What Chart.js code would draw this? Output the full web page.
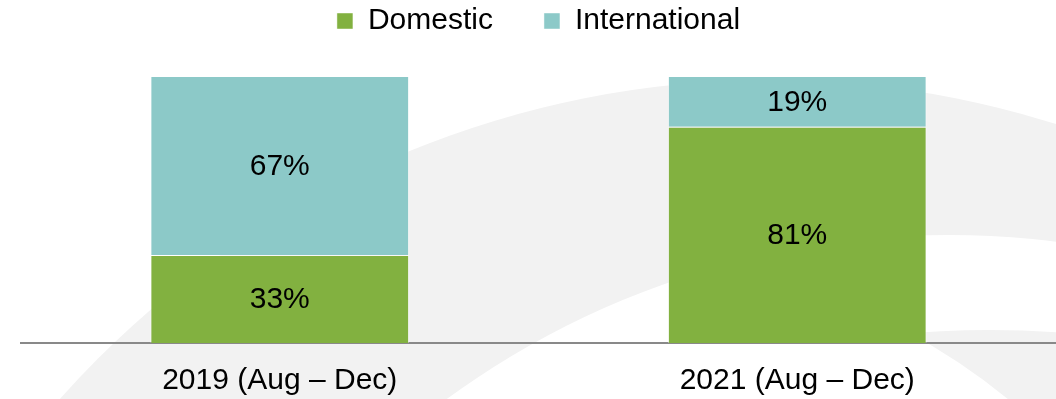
<!DOCTYPE html>
<html>
<head>
<meta charset="utf-8">
<script src="https://cdn.jsdelivr.net/npm/chart.js@4/dist/chart.umd.min.js"></script>
<style>
  html, body { margin: 0; padding: 0; background: #ffffff; }
  #wrap { position: relative; width: 1056px; height: 399px; }
</style>
</head>
<body>
<div id="wrap"><canvas id="chart"></canvas></div>
<script>
// Share of visitors by origin, per period (percent)
const categories = ['2019 (Aug \u2013 Dec)', '2021 (Aug \u2013 Dec)'];
const domestic = [33, 81];
const international = [67, 19];
const seriesNames = ['Domestic', 'International'];

const GREEN = '#82B140';
const TEAL = '#8CC9C8';
const FONT = "'Liberation Sans', Arial, sans-serif";
const FONT_SIZE = 30;

// Faint decorative swooshes painted behind the plot
const swooshes = {
  id: 'swooshes',
  beforeDraw(chart) {
    const ctx = chart.ctx;
    const W = chart.width, H = chart.height;
    const band = (outer, inner) => {
      ctx.save();
      ctx.beginPath();
      ctx.rect(0, 0, W, H);
      ctx.arc(inner[0], inner[1], inner[2], 0, Math.PI * 2);
      ctx.clip('evenodd');
      ctx.beginPath();
      ctx.arc(outer[0], outer[1], outer[2], 0, Math.PI * 2);
      ctx.fillStyle = '#F2F2F2';
      ctx.fill();
      ctx.restore();
    };
    band([770, 1030, 950], [949, 1086, 851]);
    band([990, 1330, 1000], [600, 900, 646]);
  }
};

// Value captions centred in each stacked segment
const segmentLabels = {
  id: 'segmentLabels',
  afterDatasetsDraw(chart) {
    const ctx = chart.ctx;
    ctx.save();
    ctx.font = FONT_SIZE + 'px ' + FONT;
    ctx.fillStyle = '#000000';
    ctx.textAlign = 'center';
    ctx.textBaseline = 'middle';
    chart.data.datasets.forEach((ds, di) => {
      const meta = chart.getDatasetMeta(di);
      meta.data.forEach((bar, i) => {
        const y = (bar.y + bar.base) / 2;
        ctx.fillText(ds.data[i] + '%', bar.x, y + 1);
      });
    });
    ctx.restore();
  }
};

new Chart(document.getElementById('chart'), {
  type: 'bar',
  data: {
    labels: categories,
    datasets: [
      { label: seriesNames[0], data: domestic, backgroundColor: GREEN,
        borderColor: 'rgba(255,255,255,0.45)', borderWidth: 1 },
      { label: seriesNames[1], data: international, backgroundColor: TEAL,
        borderColor: 'rgba(255,255,255,0.45)', borderWidth: 1 }
    ]
  },
  options: {
    responsive: true,
    maintainAspectRatio: false,
    animation: false,
    events: [],
    categoryPercentage: 1,
    barPercentage: 0.5,
    layout: { padding: { top: -45, left: 21, right: 0, bottom: -20 } },
    plugins: {
      tooltip: { enabled: false },
      legend: {
        position: 'top',
        align: 'center',
        labels: {
          boxWidth: 16,
          boxHeight: 16,
          padding: 51,
          color: '#000000',
          font: { family: FONT, size: FONT_SIZE }
        }
      }
    },
    scales: {
      x: {
        stacked: true,
        grid: { display: false, drawTicks: false },
        border: { display: true, color: '#898989', width: 2 },
        ticks: {
          color: '#000000',
          padding: 20,
          font: { family: FONT, size: FONT_SIZE }
        }
      },
      y: {
        stacked: true,
        display: false,
        min: 0,
        max: 111.24
      }
    }
  },
  plugins: [swooshes, segmentLabels]
});
</script>
</body>
</html>
